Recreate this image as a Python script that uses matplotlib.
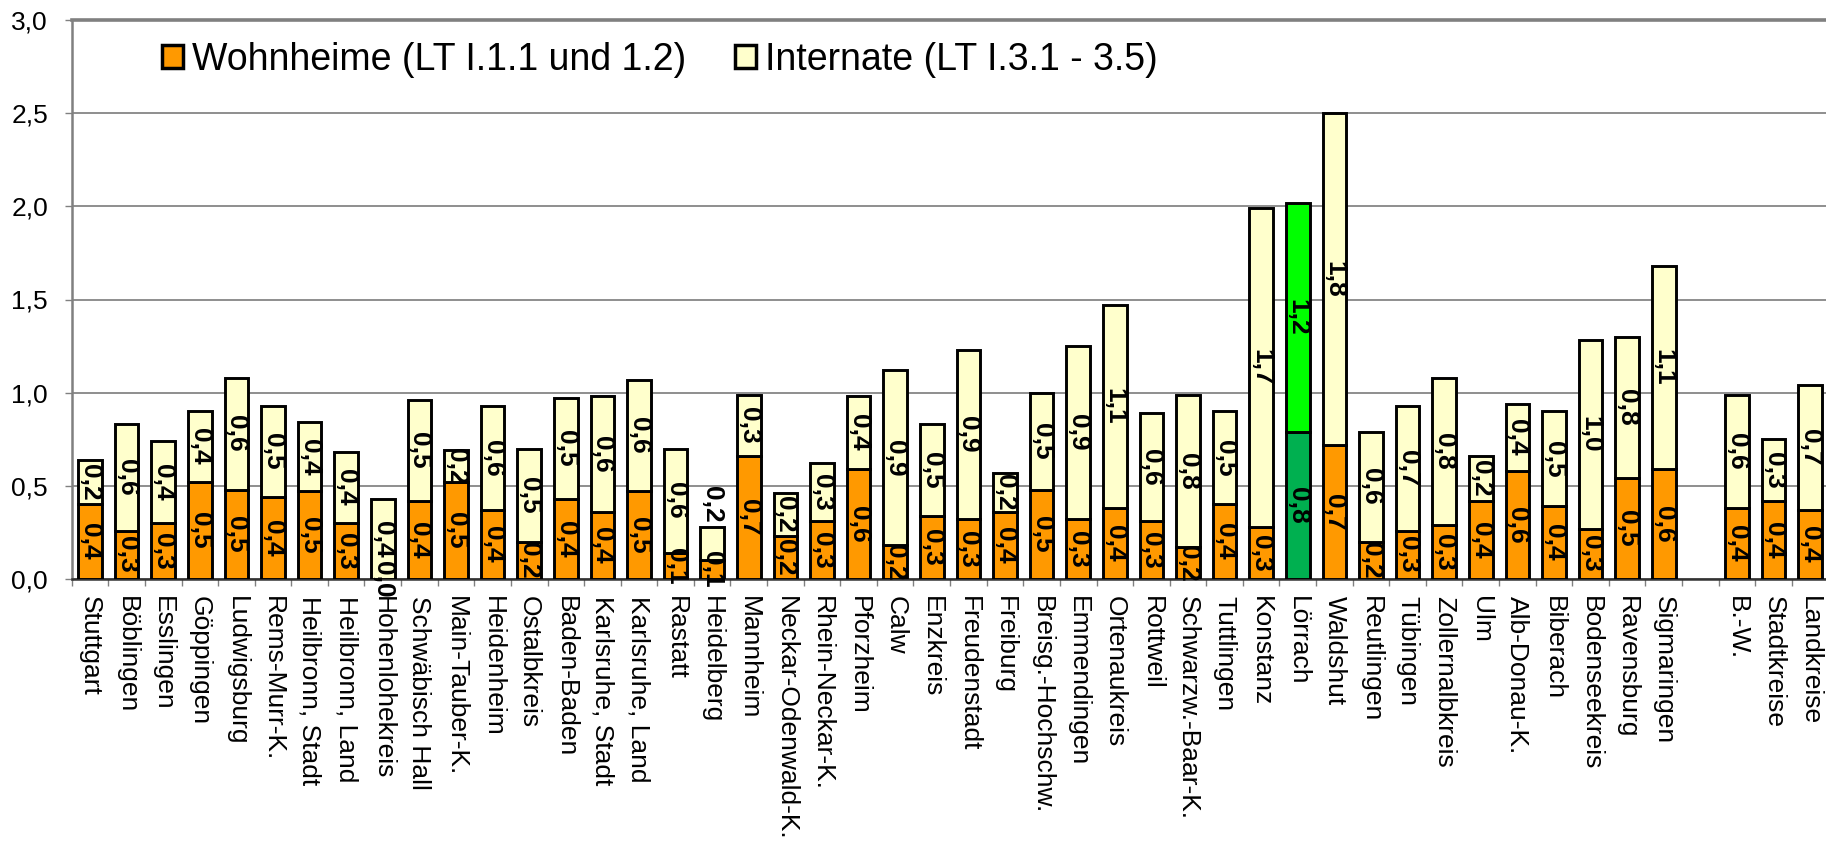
import numpy as np
import matplotlib
matplotlib.use('Agg')
import matplotlib.pyplot as plt
from matplotlib.patches import Patch

plt.rcParams['font.family'] = ['Liberation Sans', 'DejaVu Sans']

# Kreise (leerer Eintrag = Lücke vor den Summen)
kreise = ['Stuttgart', 'Böblingen', 'Esslingen', 'Göppingen', 'Ludwigsburg', 'Rems-Murr-K.',
          'Heilbronn, Stadt', 'Heilbronn, Land', 'Hohenlohekreis', 'Schwäbisch Hall', 'Main-Tauber-K.',
          'Heidenheim', 'Ostalbkreis', 'Baden-Baden', 'Karlsruhe, Stadt', 'Karlsruhe, Land', 'Rastatt',
          'Heidelberg', 'Mannheim', 'Neckar-Odenwald-K.', 'Rhein-Neckar-K.', 'Pforzheim', 'Calw',
          'Enzkreis', 'Freudenstadt', 'Freiburg', 'Breisg.-Hochschw.', 'Emmendingen', 'Ortenaukreis',
          'Rottweil', 'Schwarzw.-Baar-K.', 'Tuttlingen', 'Konstanz', 'Lörrach', 'Waldshut',
          'Reutlingen', 'Tübingen', 'Zollernalbkreis', 'Ulm', 'Alb-Donau-K.', 'Biberach',
          'Bodenseekreis', 'Ravensburg', 'Sigmaringen', '', 'B.-W.', 'Stadtkreise', 'Landkreise']

# Wohnheime (LT I.1.1 und 1.2)
wohnheime = [0.40, 0.26, 0.30, 0.52, 0.48, 0.44, 0.47, 0.30, 0.00, 0.42, 0.52,
             0.37, 0.20, 0.43, 0.36, 0.47, 0.14, 0.10, 0.66, 0.23, 0.31, 0.59, 0.18,
             0.34, 0.32, 0.36, 0.48, 0.32, 0.38, 0.31, 0.17, 0.40, 0.28, 0.79, 0.72,
             0.20, 0.26, 0.29, 0.42, 0.58, 0.39, 0.27, 0.54, 0.59, None, 0.38, 0.42, 0.37]

# Internate (LT I.3.1 - 3.5)
internate = [0.24, 0.57, 0.44, 0.38, 0.60, 0.49, 0.37, 0.38, 0.43, 0.54, 0.17,
             0.56, 0.50, 0.54, 0.62, 0.60, 0.56, 0.18, 0.33, 0.23, 0.31, 0.39, 0.94,
             0.49, 0.91, 0.21, 0.52, 0.93, 1.09, 0.58, 0.82, 0.50, 1.71, 1.23, 1.78,
             0.59, 0.67, 0.79, 0.24, 0.36, 0.51, 1.01, 0.76, 1.09, None, 0.61, 0.33, 0.67]

# hervorgehobener Kreis
highlight = 'Lörrach'
# Beschriftung über dem Balken statt in der Mitte
label_above = ['Heidelberg']

col_w = '#FF9900'
col_i = '#FFFFCC'
col_w_hl = '#00B050'
col_i_hl = '#00FF00'

fig = plt.figure(figsize=(18.26, 8.43), dpi=100)
ax = fig.add_axes([71.7 / 1826, 264 / 843, 1756.8 / 1826, 559 / 843])

bar_w = 0.65
for i, name in enumerate(kreise):
    w = wohnheime[i]
    v = internate[i]
    if w is None:
        continue
    cw, ci = (col_w_hl, col_i_hl) if name == highlight else (col_w, col_i)
    ax.bar(i, w, width=bar_w, color=cw, edgecolor='black', linewidth=2.1, zorder=3)
    ax.bar(i, v, bottom=w, width=bar_w, color=ci, edgecolor='black', linewidth=2.1, zorder=3)
    # Datenbeschriftungen
    ax.text(i, w / 2, f'{w:.1f}'.replace('.', ','), rotation=270, ha='center', va='center',
            fontsize=19, fontweight='bold', zorder=5, clip_on=False)
    if name in label_above:
        ax.text(i, w + v + 0.02, f'{v:.1f}'.replace('.', ','), rotation=270, ha='center', va='bottom',
                fontsize=19, fontweight='bold', zorder=5)
    else:
        ax.text(i, w + v / 2, f'{v:.1f}'.replace('.', ','), rotation=270, ha='center', va='center',
                fontsize=19, fontweight='bold', zorder=5, clip_on=False)

ax.set_xlim(-0.5, len(kreise) - 0.5)
ax.set_ylim(0, 3.0)
ax.set_yticks(np.arange(0, 3.01, 0.5))
ax.set_yticklabels([f'{t:.1f}'.replace('.', ',') for t in np.arange(0, 3.01, 0.5)], fontsize=19)
ax.yaxis.grid(True, color='#707070', linewidth=1.1, zorder=0)
ax.set_axisbelow(True)

ax.set_xticks(range(len(kreise)))
ax.set_xticklabels(kreise, rotation=270, fontsize=19, ha='center', va='top')
ax.set_xticks(np.arange(-0.5, len(kreise), 1), minor=True)
ax.tick_params(axis='x', which='major', length=0, pad=12.5)
ax.tick_params(axis='x', which='minor', length=5, width=1, color='#808080')
ax.tick_params(axis='y', length=5, width=1, color='#808080', pad=12)

for s in ['left', 'top']:
    ax.spines[s].set_color('#808080')
ax.spines['left'].set_linewidth(1.8)
ax.spines['top'].set_linewidth(2.6)
ax.spines['bottom'].set_color('#333333')
ax.spines['bottom'].set_linewidth(1.8)
ax.spines['right'].set_visible(False)

handles = [Patch(facecolor=col_w, edgecolor='black', linewidth=2.5, label='Wohnheime (LT I.1.1 und 1.2)'),
           Patch(facecolor=col_i, edgecolor='black', linewidth=2.5, label='Internate (LT I.3.1 - 3.5)')]
fig.legend(handles=handles, loc='upper left', bbox_to_anchor=(162 / 1826, 1 - 42 / 843),
           ncol=2, frameon=False, fontsize=27, handlelength=0.55, handleheight=0.55,
           handletextpad=0.25, columnspacing=1.3, borderpad=0, borderaxespad=0)

fig.savefig('out.png', dpi=100)
